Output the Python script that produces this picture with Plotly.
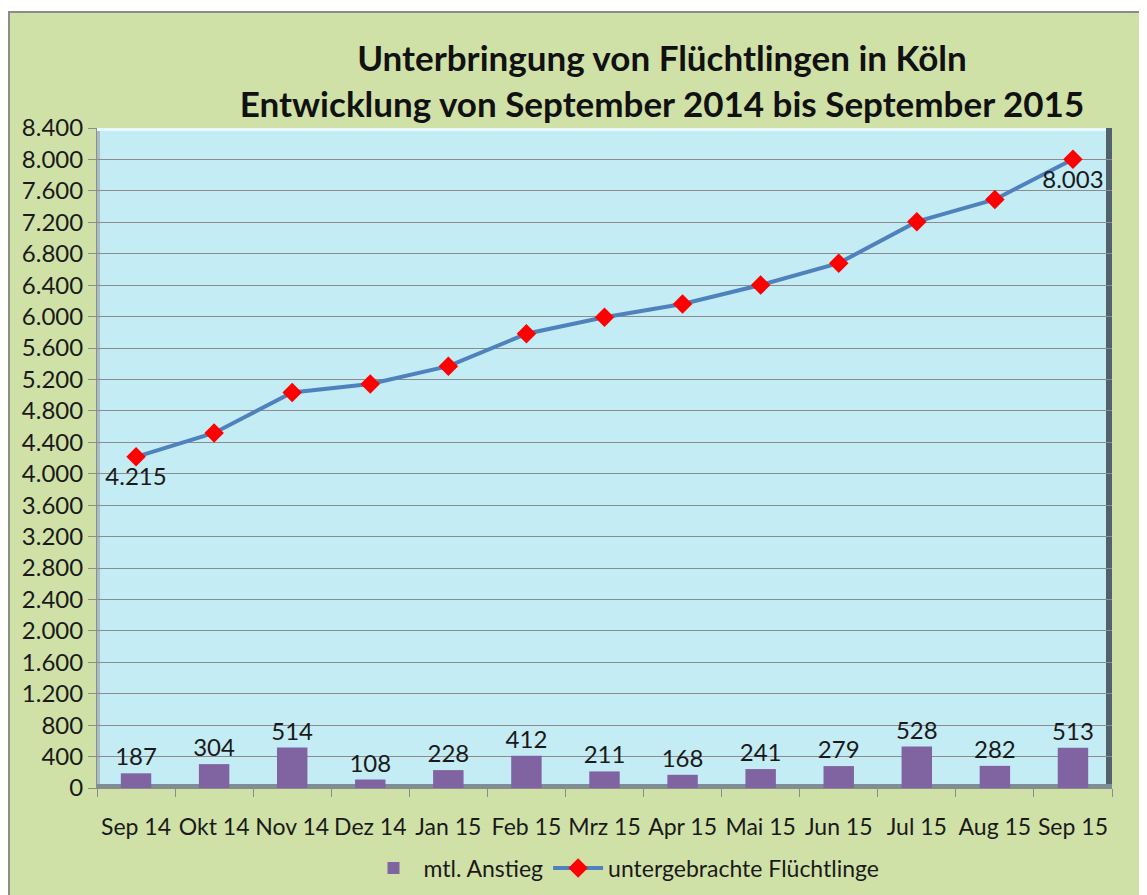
import plotly.graph_objects as go

months = ["Sep 14", "Okt 14", "Nov 14", "Dez 14", "Jan 15", "Feb 15", "Mrz 15",
          "Apr 15", "Mai 15", "Jun 15", "Jul 15", "Aug 15", "Sep 15"]
monthly_increase = [187, 304, 514, 108, 228, 412, 211, 168, 241, 279, 528, 282, 513]
refugees_housed = [4215, 4519, 5033, 5141, 5369, 5781, 5992, 6160, 6401, 6680, 7208, 7490, 8003]

W, H = 1147, 895
OFF = 8  # page body margin: screen = figure pixel + OFF
L, T = 97 - OFF, 128 - OFF
R = W - (1112 - OFF)
B = H - (788 - OFF)
PW, PH = W - L - R, H - T - B

def px_x(screen_x):
    return (screen_x - OFF - L) / PW

def px_y(screen_y):
    return (H - B - (screen_y - OFF)) / PH

FONT = "Lato"
GREEN = "#d0e1a7"
CYAN = "#c4ecf5"
TXT = "#1a1a1a"

line_text = [f"{v:,}".replace(",", ".") if i in (0, len(refugees_housed) - 1) else ""
             for i, v in enumerate(refugees_housed)]

fig = go.Figure()
fig.add_trace(go.Bar(
    x=months, y=monthly_increase, name="mtl. Anstieg",
    marker=dict(color="#8064a2", line=dict(width=0)), width=0.39,
    text=monthly_increase, texttemplate="%{y}", textposition="outside",
    constraintext="none",
    textfont=dict(size=24, color=TXT, family=FONT), cliponaxis=False,
))
fig.add_trace(go.Scatter(
    x=months, y=refugees_housed, name="untergebrachte Flüchtlinge",
    mode="lines+markers+text",
    line=dict(color="#4f81bd", width=4),
    marker=dict(symbol="diamond", size=15, color="#ff0000", line=dict(width=0)),
    text=line_text, textposition="bottom center",
    textfont=dict(size=24, color=TXT, family=FONT), cliponaxis=False,
))

shapes = [
    # white strip above chart area
    dict(type="rect", xref="paper", yref="paper", x0=px_x(-20), x1=px_x(W + 20), y0=px_y(12), y1=px_y(-20),
         fillcolor="white", line=dict(width=0), layer="below"),
    # chart border
    dict(type="line", xref="paper", yref="paper", x0=px_x(9), x1=px_x(9), y0=px_y(12), y1=px_y(H + 20),
         line=dict(color="#8c8c8c", width=2)),
    dict(type="line", xref="paper", yref="paper", x0=px_x(8), x1=px_x(W + 20), y0=px_y(12), y1=px_y(12),
         line=dict(color="#8c8c8c", width=2)),
    # plot area bevel
    dict(type="rect", xref="paper", yref="paper", x0=0, x1=px_x(100), y0=0, y1=1,
         fillcolor="#a9bcc2", line=dict(width=0), layer="below"),
    dict(type="rect", xref="paper", yref="paper", x0=0, x1=1, y0=px_y(131), y1=1,
         fillcolor="#e6f9fd", line=dict(width=0), layer="below"),
    dict(type="rect", xref="paper", yref="paper", x0=px_x(1106), x1=1, y0=0, y1=1,
         fillcolor="#52626a", line=dict(width=0), layer="below"),
    dict(type="rect", xref="paper", yref="paper", x0=0, x1=1, y0=0, y1=px_y(784),
         fillcolor="#7d8e94", line=dict(width=0), layer="below"),
]

fig.update_layout(
    width=W, height=H,
    margin=dict(l=L, r=R, t=T, b=B, pad=0, autoexpand=False),
    paper_bgcolor=GREEN, plot_bgcolor=CYAN,
    separators=",.",
    font=dict(family=FONT, size=24, color=TXT),
    title=dict(
        text="Unterbringung von Flüchtlingen in Köln<br>Entwicklung von September 2014 bis September 2015",
        x=(662 - OFF) / W, xanchor="center", y=1 - 63 / H, yanchor="top",
        font=dict(family=FONT, size=35, color="#111111", weight="bold"),
    ),
    xaxis=dict(
        range=[-0.5, len(months) - 0.5],
        showgrid=False, showline=True, linecolor="#8c8c8c", linewidth=1,
        ticks="outside", ticklen=8, tickcolor="#8c8c8c", tickson="boundaries",
        tickangle=0, ticklabelstandoff=18,
        tickfont=dict(size=23, family=FONT, color=TXT),
        fixedrange=True,
    ),
    yaxis=dict(
        range=[0, 8400], dtick=400, tick0=0, tickformat=",d",
        showgrid=True, gridcolor="#8c8c8c", gridwidth=1,
        showline=True, linecolor="#8c8c8c", linewidth=1,
        ticks="outside", ticklen=8, tickcolor="#8c8c8c",
        tickfont=dict(size=24, family=FONT, color=TXT),
        zeroline=False, fixedrange=True,
    ),
    showlegend=True,
    legend=dict(
        orientation="h", xref="container", yref="container",
        x=616 / W, xanchor="center", y=1 - (868 - OFF) / H, yanchor="middle",
        bgcolor="rgba(0,0,0,0)", font=dict(size=23, family=FONT, color=TXT),
        itemwidth=50,
    ),
    shapes=shapes,
)

fig.write_html("out.html")
